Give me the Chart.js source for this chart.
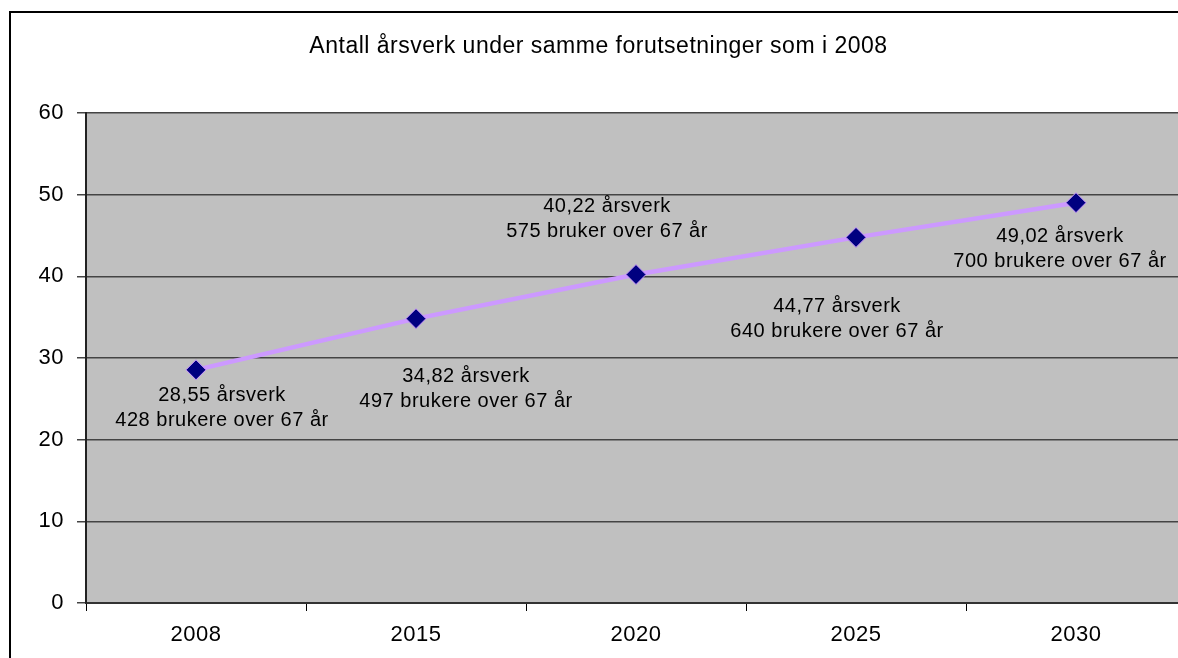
<!DOCTYPE html>
<html>
<head>
<meta charset="utf-8">
<script src="https://cdn.jsdelivr.net/npm/chart.js@4.4.1/dist/chart.umd.min.js"></script>
<style>
html,body{margin:0;padding:0;background:#fff;overflow:hidden;width:1178px;height:658px;}
#frame{position:absolute;left:9px;top:11px;width:1200px;height:660px;border:2px solid #000;}
canvas{display:block;}
</style>
</head>
<body>
<div id="frame"><canvas id="c" width="1200" height="660"></canvas></div>
<script>
// ---- data ----
const years = ['2008', '2015', '2020', '2025', '2030'];
const aarsverk = [28.55, 34.82, 40.22, 44.77, 49.02];
const brukere = [428, 497, 575, 640, 700];
const brukerOrd = ['brukere', 'brukere', 'bruker', 'brukere', 'brukere'];
const yTickValues = [0, 10, 20, 30, 40, 50, 60];
const chartTitle = 'Antall årsverk under samme forutsetninger som i 2008';

// ---- label text built from data ----
const labelLine1 = aarsverk.map(v => v.toFixed(2).replace('.', ',') + ' årsverk');
const labelLine2 = brukere.map((b, i) => b + ' ' + brukerOrd[i] + ' over 67 år');

// ---- styling (label offsets relative to each point) ----
const labelOffsets = [[26, 26], [50, 58], [-29, -68], [-19, 69], [-16, 34]];
const FONT = '"Liberation Sans", Arial, sans-serif';

const plotBg = {
  id: 'plotBg',
  beforeDraw(chart) {
    const {ctx, chartArea: a} = chart;
    ctx.save();
    ctx.fillStyle = '#C0C0C0';
    ctx.fillRect(a.left, a.top, a.right - a.left, a.bottom - a.top);
    ctx.restore();
    ctx.letterSpacing = '0.5px';
  }
};

const pointLabels = {
  id: 'pointLabels',
  afterDatasetsDraw(chart) {
    const ctx = chart.ctx;
    const meta = chart.getDatasetMeta(0);
    ctx.save();
    ctx.font = '20px ' + FONT;
    ctx.letterSpacing = '0.5px';
    ctx.fillStyle = '#000';
    ctx.textAlign = 'center';
    ctx.textBaseline = 'middle';
    meta.data.forEach((pt, i) => {
      const [dx, dy] = labelOffsets[i];
      ctx.fillText(labelLine1[i], pt.x + dx, pt.y + dy);
      ctx.fillText(labelLine2[i], pt.x + dx, pt.y + dy + 25);
    });
    ctx.restore();
  }
};

new Chart(document.getElementById('c'), {
  type: 'line',
  data: {
    labels: years,
    datasets: [{
      data: aarsverk,
      borderColor: '#CC99FF',
      borderWidth: 4.5,
      tension: 0,
      pointStyle: 'rectRot',
      pointRadius: 10,
      pointBackgroundColor: '#000080',
      pointBorderColor: '#CC99FF',
      pointBorderWidth: 1,
      clip: false
    }]
  },
  options: {
    responsive: false,
    animation: false,
    devicePixelRatio: 1,
    layout: {padding: {top: 0, left: 0, right: 25, bottom: 0}},
    plugins: {
      legend: {display: false},
      tooltip: {enabled: false},
      title: {
        display: true,
        text: chartTitle,
        color: '#000',
        font: {family: FONT, size: 23, weight: 'normal'},
        padding: {top: 20, bottom: 52.4}
      }
    },
    scales: {
      x: {
        type: 'category',
        offset: true,
        grid: {display: true, drawOnChartArea: false, drawTicks: true, tickLength: 8, offset: true, color: '#000', lineWidth: 1},
        border: {display: true, color: '#333', width: 2},
        ticks: {color: '#000', font: {family: FONT, size: 22}, padding: 11, maxRotation: 0},
        afterFit(scale) { scale.height = 70; }
      },
      y: {
        min: 0,
        max: 60,
        afterBuildTicks(scale) { scale.ticks = yTickValues.map(v => ({value: v})); },
        grid: {color: '#444', lineWidth: 1.5, tickLength: 9, drawTicks: true},
        border: {display: true, color: '#222', width: 2},
        ticks: {color: '#000', font: {family: FONT, size: 22}, padding: 13},
        afterFit(scale) { scale.width = 75; }
      }
    }
  },
  plugins: [plotBg, pointLabels]
});
</script>
</body>
</html>
